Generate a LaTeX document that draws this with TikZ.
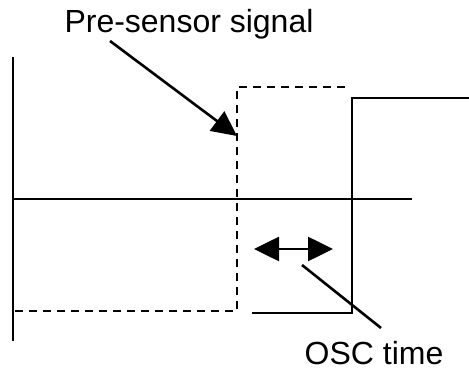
\documentclass[tikz,border=0pt]{standalone}
\usepackage{fontspec}
\setmainfont{Liberation Sans}
\usetikzlibrary{arrows.meta, positioning}

\tikzset{
  wave/.style={line width=2.6pt},
  pre/.style={wave, dash pattern=on 8pt off 6pt},
  lbl/.style={inner sep=0pt, anchor=base, font=\fontsize{32}{38}\selectfont},
  bigtip/.style={-{Triangle[length=25pt,width=24pt]}, line width=2.6pt}
}

\begin{document}
\begin{tikzpicture}[x=1pt,y=-1pt]
  \useasboundingbox (0,0) rectangle (469,371);

  % axes
  \coordinate (ytop) at (13,57);
  \coordinate (ybot) at (13,341);
  \coordinate (x0) at (13,199);
  \coordinate (x1) at (412,199);
  \draw[wave] (ytop) -- (ybot);
  \draw[wave] (x0) -- (x1);

  % pre-sensor signal (dashed)
  \coordinate (p0) at (15,311);
  \coordinate (p1) at (237,311);
  \coordinate (p2) at (237,87);
  \coordinate (p3) at (348,87);
  \draw[pre] (p0) -- (p1) -- (p2) -- (p3);

  % sensor signal
  \coordinate (s0) at (252,313);
  \coordinate (s1) at (352,313);
  \coordinate (s2) at (352,98);
  \coordinate (s3) at (469,98);
  \draw[wave] (s0) -- (s1) -- (s2) -- (354,98) -- (s3);

  % labels
  \node[lbl] (pre) at (189,33) {Pre-sensor signal};
  \node[lbl] (osc) at (374,365) {OSC time};

  \coordinate (pa) at (110,41);
  \coordinate (pb) at (237,136);
  \draw[bigtip] (pa) -- (pb);

  \coordinate (oa) at (254,249);
  \coordinate (ob) at (333,249);
  \draw[bigtip, {Triangle[length=25pt,width=24pt]}-{Triangle[length=25pt,width=24pt]}] (oa) -- (ob);

  \coordinate (la) at (302,265);
  \coordinate (lb) at (381,328);
  \draw[wave] (la) -- (lb);
\end{tikzpicture}
\end{document}
